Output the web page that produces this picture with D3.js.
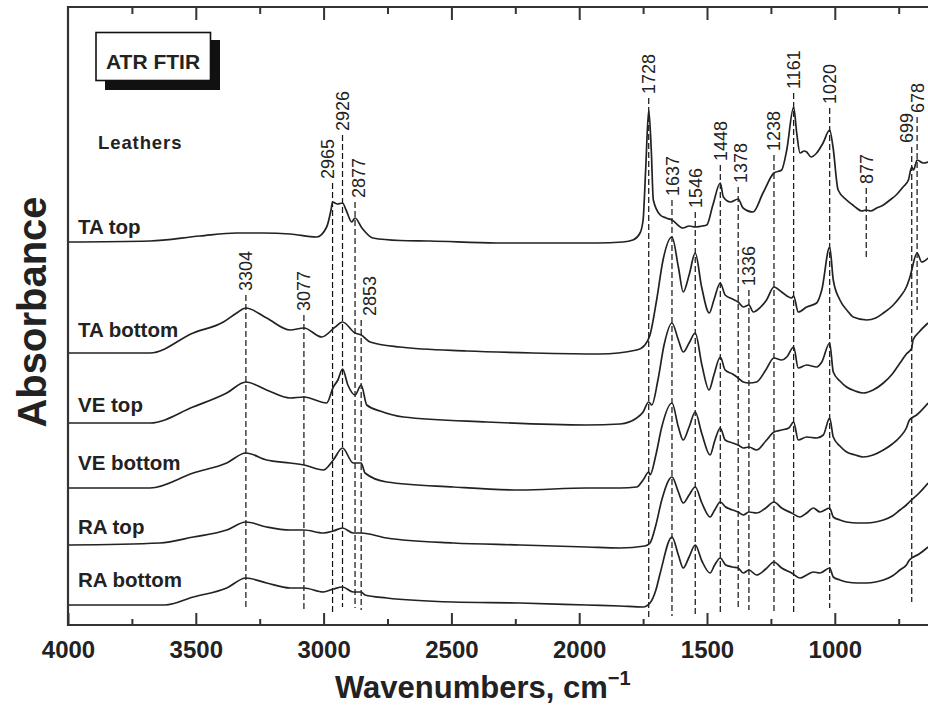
<!DOCTYPE html>
<html>
<head>
<meta charset="utf-8">
<script src="https://cdn.jsdelivr.net/npm/d3@7"></script>
<style>
  html, body { margin: 0; padding: 0; background: #fff; }
  svg { display: block; }
  text { font-family: "Liberation Sans", Arial, Helvetica, sans-serif; fill: #222; }
</style>
</head>
<body>
<script>
// ---------------- DATA ----------------
const sampleNames = ["TA top", "TA bottom", "VE top", "VE bottom", "RA top", "RA bottom"];

// [wavenumber (cm-1), absorbance (offset-stacked, a.u.)]
const taTop = [
  [4000,3.83],[3679,3.84],[3484,3.89],[3340,3.92],[3237,3.92],[3131,3.91],[3027,3.88],[2988,3.98],
  [2971,4.15],[2965,4.23],[2946,4.21],[2926,4.22],[2912,4.15],[2890,4.03],[2877,4.07],[2850,3.97],
  [2807,3.87],[2701,3.845],[2584,3.84],[2323,3.82],[1932,3.82],[1829,3.83],[1790,3.85],[1762,3.92],
  [1750,4.05],[1740,4.55],[1728,5.15],[1718,4.75],[1710,4.25],[1683,4.10],[1660,4.07],[1637,4.05],
  [1594,3.97],[1570,3.99],[1546,3.98],[1520,3.99],[1501,4.00],[1477,4.20],[1448,4.42],[1436,4.28],
  [1408,4.23],[1378,4.26],[1359,4.17],[1320,4.13],[1281,4.32],[1238,4.52],[1208,4.55],[1188,4.75],
  [1161,5.18],[1149,4.92],[1136,4.72],[1120,4.74],[1110,4.73],[1093,4.68],[1071,4.72],[1046,4.82],
  [1020,4.95],[1007,4.78],[987,4.35],[954,4.25],[930,4.20],[915,4.17],[895,4.14],[877,4.15],
  [860,4.14],[836,4.17],[810,4.20],[784,4.25],[760,4.30],[733,4.38],[712,4.45],[699,4.58],
  [692,4.55],[678,4.65],[654,4.62],[635,4.63]
];
const taBottom = [
  [4000,2.72],[3679,2.72],[3510,2.92],[3392,3.03],[3340,3.12],[3304,3.17],[3223,3.07],[3131,2.95],
  [3077,2.97],[3007,2.88],[2955,2.98],[2926,3.03],[2877,2.92],[2853,2.90],[2818,2.83],[2701,2.78],
  [2440,2.74],[2181,2.72],[1919,2.71],[1775,2.75],[1743,2.80],[1723,2.90],[1697,3.25],[1672,3.65],
  [1637,3.88],[1612,3.58],[1593,3.33],[1570,3.50],[1546,3.72],[1521,3.38],[1491,3.12],[1473,3.25],
  [1448,3.42],[1429,3.30],[1400,3.26],[1378,3.23],[1358,3.18],[1336,3.20],[1319,3.13],[1290,3.18],
  [1267,3.25],[1238,3.38],[1208,3.33],[1169,3.27],[1161,3.29],[1143,3.13],[1110,3.18],[1071,3.22],
  [1051,3.35],[1020,3.78],[1006,3.45],[980,3.25],[950,3.14],[928,3.08],[875,3.05],[840,3.07],
  [810,3.12],[775,3.19],[745,3.28],[720,3.38],[706,3.48],[678,3.72],[660,3.63],[635,3.67]
];
const veTop = [
  [4000,2.02],[3679,2.02],[3511,2.18],[3379,2.32],[3304,2.43],[3223,2.35],[3131,2.27],[3077,2.28],
  [2988,2.22],[2962,2.38],[2944,2.45],[2926,2.56],[2905,2.40],[2877,2.30],[2853,2.40],[2831,2.20],
  [2779,2.14],[2688,2.08],[2362,2.03],[1971,2.00],[1840,2.01],[1775,2.07],[1750,2.13],[1728,2.23],
  [1716,2.20],[1692,2.45],[1668,2.80],[1637,3.02],[1612,2.85],[1593,2.73],[1570,2.82],[1546,2.92],
  [1520,2.60],[1492,2.35],[1473,2.50],[1448,2.68],[1429,2.55],[1400,2.51],[1378,2.47],[1358,2.43],
  [1336,2.42],[1306,2.43],[1270,2.55],[1238,2.67],[1208,2.65],[1188,2.68],[1161,2.78],[1143,2.57],
  [1110,2.60],[1071,2.58],[1051,2.63],[1020,2.82],[1006,2.53],[980,2.44],[954,2.38],[920,2.34],
  [889,2.32],[850,2.35],[810,2.42],[775,2.51],[745,2.62],[720,2.71],[699,2.77],[694,2.85],
  [670,2.93],[635,3.02]
];
const veBottom = [
  [4000,1.37],[3679,1.37],[3510,1.52],[3379,1.62],[3304,1.72],[3223,1.65],[3131,1.62],[3077,1.60],
  [3001,1.55],[2962,1.65],[2926,1.77],[2884,1.62],[2853,1.62],[2838,1.52],[2753,1.43],[2493,1.38],
  [2232,1.35],[1971,1.37],[1840,1.37],[1775,1.38],[1750,1.45],[1728,1.53],[1723,1.50],[1700,1.70],
  [1677,1.98],[1637,2.22],[1612,1.98],[1593,1.85],[1570,1.98],[1546,2.13],[1521,1.92],[1488,1.70],
  [1470,1.84],[1448,1.97],[1429,1.85],[1400,1.82],[1378,1.80],[1358,1.77],[1336,1.78],[1306,1.75],
  [1270,1.84],[1238,1.93],[1208,1.95],[1180,1.97],[1161,2.03],[1143,1.85],[1110,1.88],[1071,1.87],
  [1045,1.90],[1020,2.07],[1006,1.88],[980,1.79],[954,1.73],[920,1.70],[889,1.68],[850,1.70],
  [810,1.75],[775,1.81],[745,1.88],[720,1.97],[708,2.05],[680,2.10],[635,2.22]
];
const raTop = [
  [4000,0.80],[3640,0.82],[3510,0.88],[3379,0.95],[3304,1.03],[3223,0.98],[3131,0.95],[3077,0.95],
  [3001,0.92],[2962,0.94],[2926,0.97],[2884,0.92],[2853,0.92],[2753,0.87],[2493,0.82],[2232,0.80],
  [1971,0.78],[1840,0.77],[1743,0.79],[1723,0.82],[1700,1.00],[1677,1.25],[1637,1.48],[1612,1.33],
  [1593,1.22],[1570,1.30],[1546,1.38],[1520,1.22],[1488,1.08],[1470,1.15],[1448,1.23],[1427,1.18],
  [1400,1.15],[1378,1.13],[1358,1.10],[1336,1.13],[1306,1.12],[1270,1.17],[1238,1.23],[1208,1.17],
  [1169,1.12],[1136,1.08],[1110,1.12],[1084,1.17],[1058,1.13],[1020,1.17],[1006,1.08],[980,1.05],
  [954,1.03],[910,1.02],[875,1.02],[840,1.03],[810,1.05],[775,1.09],[745,1.15],[720,1.20],
  [708,1.23],[670,1.32],[635,1.42]
];
const raBottom = [
  [4000,0.20],[3620,0.20],[3510,0.28],[3379,0.37],[3304,0.47],[3223,0.42],[3131,0.37],[3077,0.37],
  [3001,0.33],[2962,0.36],[2926,0.38],[2884,0.33],[2853,0.33],[2838,0.30],[2753,0.27],[2493,0.23],
  [2232,0.22],[1971,0.20],[1840,0.19],[1750,0.18],[1723,0.22],[1700,0.35],[1683,0.52],[1637,0.88],
  [1612,0.70],[1593,0.57],[1570,0.68],[1546,0.80],[1520,0.64],[1488,0.52],[1470,0.60],[1448,0.67],
  [1427,0.60],[1400,0.58],[1378,0.57],[1358,0.52],[1336,0.55],[1306,0.50],[1270,0.56],[1238,0.63],
  [1208,0.57],[1169,0.52],[1136,0.47],[1110,0.50],[1084,0.53],[1058,0.52],[1020,0.57],[1006,0.48],
  [980,0.45],[954,0.43],[910,0.42],[875,0.42],[840,0.43],[810,0.45],[775,0.49],[745,0.55],
  [720,0.60],[708,0.65],[670,0.71],[635,0.78]
];
const spectra = [taTop, taBottom, veTop, veBottom, raTop, raBottom];

// peak assignments (cm-1) and the absorbance span of their marker lines
const peakWn         = [3304, 3077, 2965, 2926, 2877, 2853, 1728, 1637, 1546, 1448, 1378, 1336, 1238, 1161, 1020, 877, 699, 678];
const peakLabels     = ["3304","3077","2965","2926","2877","2853","1728","1637","1546","1448","1378","1336","1238","1161","1020","877","699","678"];
const peakLineTop    = [3.30, 3.10, 4.42, 4.90, 4.23, 3.05, 5.27, 4.25, 4.13, 4.60, 4.38, 3.35, 4.70, 5.32, 5.17, 4.37, 4.78, 5.08];
const peakLineBottom = [0.18, 0.14, 0.12, 0.18, 0.17, 0.15, 0.07, 0.09, 0.09, 0.12, 0.15, 0.15, 0.13, 0.13, 0.17, 3.68, 0.23, 3.15];

const xMajorTicks = [4000, 3500, 3000, 2500, 2000, 1500, 1000];
const xMinorTicks = [3750, 3250, 2750, 2250, 1750, 1250, 750];

const titleText = "ATR FTIR";
const subtitleText = "Leathers";
const xTitle = "Wavenumbers, cm";
const yTitle = "Absorbance";

// ---------------- LAYOUT ----------------
const W = 928, H = 710;
const plotLeft = 68, plotTop = 7, plotBottom = 625;
const pxPerUnit = 0.2556;

const svg = d3.select("body").append("svg").attr("width", W).attr("height", H);
svg.append("rect").attr("width", W).attr("height", H).attr("fill", "#fff");

const x = d3.scaleLinear().domain([4000, 600]).range([plotLeft, plotLeft + 3400 * pxPerUnit]);
const y = d3.scaleLinear().domain([0, 6.18]).range([plotBottom, plotTop]);

// marker lines (drawn under the spectra)
const gPeaks = svg.append("g");
peakWn.forEach((wn, i) => {
  gPeaks.append("line")
    .attr("x1", x(wn)).attr("x2", x(wn))
    .attr("y1", y(peakLineTop[i])).attr("y2", y(peakLineBottom[i]))
    .attr("stroke", "#111").attr("stroke-width", 1.2)
    .attr("stroke-dasharray", "6,3");
});

// spectra
const line = d3.line().x(d => x(d[0])).y(d => y(d[1])).curve(d3.curveMonotoneX);
svg.append("g").selectAll("path").data(spectra).join("path")
  .attr("d", line)
  .attr("fill", "none")
  .attr("stroke", "#222")
  .attr("stroke-width", 1.7)
  .attr("stroke-linejoin", "round");

// peak labels
const labelNudge = {"2965": -5, "2877": 3, "2853": 8, "699": -5, "1637": 1, "1378": 2};
peakWn.forEach((wn, i) => {
  const lx = x(wn) + (labelNudge[peakLabels[i]] || 0);
  const ly = y(peakLineTop[i]) - 4;
  svg.append("text")
    .attr("transform", `translate(${lx},${ly}) rotate(-90)`)
    .attr("dy", "0.36em")
    .attr("font-size", 18)
    .text(peakLabels[i]);
});

// axes
const axisG = svg.append("g");
const bottomMajor = d3.axisBottom(x).tickValues(xMajorTicks).tickSize(-12).tickSizeOuter(0).tickPadding(16).tickFormat(d3.format("d"));
const bottomMinor = d3.axisBottom(x).tickValues(xMinorTicks).tickSize(-6).tickSizeOuter(0).tickFormat("");
const topMajor = d3.axisTop(x).tickValues(xMajorTicks.slice(1)).tickSize(-13).tickSizeOuter(0).tickFormat("");
const topMinor = d3.axisTop(x).tickValues(xMinorTicks).tickSize(-7).tickSizeOuter(0).tickFormat("");

function styleAxis(g) {
  g.select(".domain").remove();
  g.selectAll(".tick line").attr("stroke", "#333").attr("stroke-width", 2);
  g.selectAll(".tick text").attr("font-size", 24).attr("font-weight", "bold").attr("fill", "#222")
    .attr("font-family", '"Liberation Sans", Arial, sans-serif');
}
axisG.append("g").attr("transform", `translate(0,${plotBottom})`).call(bottomMajor).call(styleAxis);
axisG.append("g").attr("transform", `translate(0,${plotBottom})`).call(bottomMinor).call(styleAxis);
axisG.append("g").attr("transform", `translate(0,${plotTop})`).call(topMajor).call(styleAxis);
axisG.append("g").attr("transform", `translate(0,${plotTop})`).call(topMinor).call(styleAxis);

// frame
const xr = x.range()[1];
svg.append("path")
  .attr("d", `M${xr},${plotTop}H${plotLeft}V${plotBottom}H${xr}`)
  .attr("fill", "none").attr("stroke", "#333").attr("stroke-width", 2.2);

// title box with drop shadow
svg.append("rect").attr("x", 105).attr("y", 40).attr("width", 115).attr("height", 50).attr("fill", "#111");
svg.append("rect").attr("x", 96).attr("y", 32.5).attr("width", 114.5).attr("height", 48).attr("fill", "#fff")
  .attr("stroke", "#111").attr("stroke-width", 1.6);
svg.append("text").attr("x", 106).attr("y", 68.5).attr("font-size", 21).attr("font-weight", "bold").text(titleText);

svg.append("text").attr("x", 98).attr("y", 149).attr("font-size", 18.5).attr("font-weight", "bold")
  .attr("letter-spacing", 0.9).text(subtitleText);

// sample labels
const sampleLabelBaseline = [233.5, 336.5, 411.5, 470, 533.5, 586.5];
sampleNames.forEach((n, i) => {
  svg.append("text").attr("x", 78).attr("y", sampleLabelBaseline[i])
    .attr("font-size", 20.5).attr("font-weight", "bold").text(n);
});

// axis titles
const xt = svg.append("text").attr("transform", "translate(335,698)")
  .attr("font-size", 31).attr("font-weight", "bold");
xt.append("tspan").text(xTitle);
xt.append("tspan").attr("dy", -13).attr("font-size", 20).text("\u22121");

svg.append("text")
  .attr("transform", `translate(46,312) rotate(-90)`)
  .attr("text-anchor", "middle")
  .attr("font-size", 40).attr("font-weight", "bold")
  .text(yTitle);
</script>
</body>
</html>
